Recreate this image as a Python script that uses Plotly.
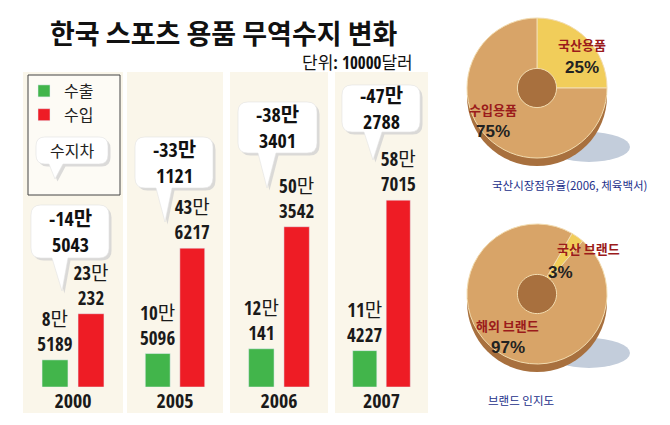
import plotly.graph_objects as go

W, H = 670, 425

# data (단위: 10000달러)
years = ["2000", "2005", "2006", "2007"]
exports = [85189, 105096, 120141, 114227]
imports = [230232, 436217, 503542, 587015]
balance = [-145043, -331121, -383401, -472788]

share_labels = ["국산용품", "수입용품"]
share_values = [25, 75]
brand_labels = ["국산 브랜드", "해외 브랜드"]
brand_values = [3, 97]

GREEN = "#42b54b"
RED = "#ee1c25"
CREAM = "#faf6ea"
NARROW = ("Noto Sans Condensed, Open Sans Condensed, Roboto Condensed, DejaVu Sans Condensed, "
          "Liberation Sans Narrow, Liberation Sans, Noto Sans CJK KR, sans-serif")
KR = "Noto Sans CJK KR, sans-serif"


def px(x):
    return x / W


def py(y):
    return 1 - y / H


def man(v, sign=""):
    v = abs(v)
    return sign + str(v // 10000) + "만<br>" + str(v % 10000)


def bubble(x0, y0, x1, y1, bx0, bx1, tx, ty, r=10, dx=0, dy=0):
    pts = [("M", x0 + r, y0), ("L", x1 - r, y0), ("Q", x1, y0, x1, y0 + r),
           ("L", x1, y1 - r), ("Q", x1, y1, x1 - r, y1), ("L", bx1, y1),
           ("L", tx, ty), ("L", bx0, y1), ("L", x0 + r, y1),
           ("Q", x0, y1, x0, y1 - r), ("L", x0, y0 + r), ("Q", x0, y0, x0 + r, y0)]
    s = ""
    for p in pts:
        c = p[0]
        nums = p[1:]
        xy = []
        for k in range(0, len(nums), 2):
            xy.append("%.5f,%.5f" % (px(nums[k] + dx), py(nums[k + 1] + dy)))
        s += c + " ".join(xy) + " "
    return s + "Z"


def note(x, y, text, font, xanchor="center"):
    return dict(xref="paper", yref="paper", x=px(x), y=py(y), text=text, showarrow=False,
                xanchor=xanchor, yanchor="middle", font=font)


panels = [(23, 123), (127, 223), (230, 328), (335, 428)]
bubbles = [(31, 205, 109, 258, 52, 68, 62, 291),
           (135, 137, 213, 188, 156, 172, 165, 222),
           (238, 102, 317, 153, 258, 276, 267, 188),
           (342, 85, 420, 132, 364, 382, 373, 160)]

fig = go.Figure()
layout = {}
shapes = []
annotations = []

for i in range(4):
    xa = "x" + ("" if i == 0 else str(i + 1))
    ya = "y" + ("" if i == 0 else str(i + 1))
    fig.add_trace(go.Bar(x=[years[i]], y=[exports[i]], name="수출", marker_color=GREEN,
                         text=[man(exports[i])], textposition="outside", textangle=0,
                         constraintext="none", cliponaxis=False,
                         textfont=dict(family=NARROW, size=19, color="#1a1a1a"),
                         legendgroup="수출", showlegend=(i == 0), xaxis=xa, yaxis=ya,
                         hoverinfo="skip"))
    fig.add_trace(go.Bar(x=[years[i]], y=[imports[i]], name="수입", marker_color=RED,
                         text=[man(imports[i])], textposition="outside", textangle=0,
                         constraintext="none", cliponaxis=False,
                         textfont=dict(family=NARROW, size=19, color="#1a1a1a"),
                         legendgroup="수입", showlegend=(i == 0), xaxis=xa, yaxis=ya,
                         hoverinfo="skip"))
    l, r = panels[i]
    key = "" if i == 0 else str(i + 1)
    layout["xaxis" + key] = dict(domain=[px(l), px(r)], showgrid=False, zeroline=False,
                                 showline=False, ticks="", fixedrange=True,
                                 tickfont=dict(family=NARROW, size=20, color="#1a1a1a", weight="bold"),
                                 anchor=ya)
    layout["yaxis" + key] = dict(domain=[py(387), py(196)], range=[0, 600000], visible=False,
                                 fixedrange=True, anchor=xa)
    # panel background
    shapes.append(dict(type="rect", xref="paper", yref="paper", x0=px(l), x1=px(r),
                       y0=py(413), y1=py(72), fillcolor=CREAM, line_width=0, layer="below"))
    # balance bubble
    b = bubbles[i]
    shapes.append(dict(type="path", xref="paper", yref="paper", path=bubble(*b, dx=2.5, dy=2.5),
                       fillcolor="#d2d2d2", line_width=0, opacity=0.8))
    shapes.append(dict(type="path", xref="paper", yref="paper", path=bubble(*b),
                       fillcolor="white", line=dict(color="#e2e2e2", width=0.6)))
    annotations.append(note((b[0] + b[2]) / 2, (b[1] + b[3]) / 2, man(balance[i], "-"),
                            dict(family=NARROW, size=20, color="#111", weight="bold")))

# legend box with 수지차 bubble
shapes.append(dict(type="rect", xref="paper", yref="paper", x0=px(28), x1=px(120),
                   y0=py(195), y1=py(75), fillcolor="#fdfbf5", line=dict(color="#444", width=1),
                   layer="below"))
lb = (36, 137, 108, 164, 49, 63, 55, 179)
shapes.append(dict(type="path", xref="paper", yref="paper", path=bubble(*lb, r=9, dx=2.5, dy=2.5),
                   fillcolor="#d2d2d2", line_width=0, opacity=0.8))
shapes.append(dict(type="path", xref="paper", yref="paper", path=bubble(*lb, r=9),
                   fillcolor="white", line=dict(color="#e2e2e2", width=0.6)))
annotations.append(note(72, 150, "수지차", dict(family=KR, size=16, color="#222")))

# donuts: 3D edge and shadow
for cy in (88, 294):
    shapes.append(dict(type="circle", xref="paper", yref="paper", x0=px(548), x1=px(630),
                       y0=py(cy + 74), y1=py(cy + 44), fillcolor="#c3cddb", line_width=0,
                       layer="below"))
    shapes.append(dict(type="circle", xref="paper", yref="paper", x0=px(467), x1=px(607),
                       y0=py(cy + 78), y1=py(cy - 62), fillcolor="#a8703e", line_width=0,
                       layer="below"))

fig.add_trace(go.Pie(labels=share_labels, values=share_values, hole=0.28, sort=False,
                     direction="clockwise", rotation=0, textinfo="none", showlegend=False,
                     marker=dict(colors=["#f1cd5a", "#d8a468"], line=dict(color="#f2dcb0", width=1)),
                     domain=dict(x=[px(467), px(607)], y=[py(158), py(18)]), hoverinfo="skip"))
fig.add_trace(go.Pie(labels=brand_labels, values=brand_values, hole=0.28, sort=False,
                     direction="clockwise", rotation=30, textinfo="none", showlegend=False,
                     marker=dict(colors=["#f1cd5a", "#d8a468"], line=dict(color="#f2dcb0", width=1)),
                     domain=dict(x=[px(467), px(607)], y=[py(364), py(224)]), hoverinfo="skip"))

pie_text = [(share_labels[0], share_values[0], 582, 45, 582, 67),
            (share_labels[1], share_values[1], 493, 110, 493, 132),
            (brand_labels[0], brand_values[0], 588, 248, 560, 272),
            (brand_labels[1], brand_values[1], 508, 325, 508, 347)]
for lab, val, lx, ly, vx, vy in pie_text:
    annotations.append(note(lx, ly, lab, dict(family=KR, size=13, color="#9b1b1b", weight="bold")))
    annotations.append(note(vx, vy, str(val) + "%",
                            dict(family="Liberation Sans, Arial, sans-serif", size=17,
                                 color="#222", weight="bold")))

annotations.append(note(569, 185, "국산시장점유율(2006, 체육백서)",
                        dict(family=KR, size=11.5, color="#23308a")))
annotations.append(note(521, 400, "브랜드 인지도", dict(family=KR, size=11.5, color="#23308a")))

# titles
annotations.append(note(224, 33, "한국 스포츠 용품 무역수지 변화",
                        dict(family=KR, size=27, color="#111", weight="bold")))
annotations.append(note(415, 63, "단위: 10000달러", dict(family=NARROW, size=17, color="#111"),
                        xanchor="right"))

fig.update_layout(**layout)
fig.update_layout(
    width=W, height=H, autosize=False,
    margin=dict(l=0, r=0, t=0, b=0),
    paper_bgcolor="white", plot_bgcolor="rgba(0,0,0,0)",
    barmode="group", bargap=0.28, bargroupgap=0.28,
    shapes=shapes, annotations=annotations,
    legend=dict(x=px(24), y=py(74), xanchor="left", yanchor="top", bgcolor="rgba(0,0,0,0)",
                font=dict(family=KR, size=16, color="#222"), tracegroupgap=0, itemwidth=30),
)

fig.write_html("out.html", config={"displayModeBar": False},
               post_script="document.body.style.margin='0';")
